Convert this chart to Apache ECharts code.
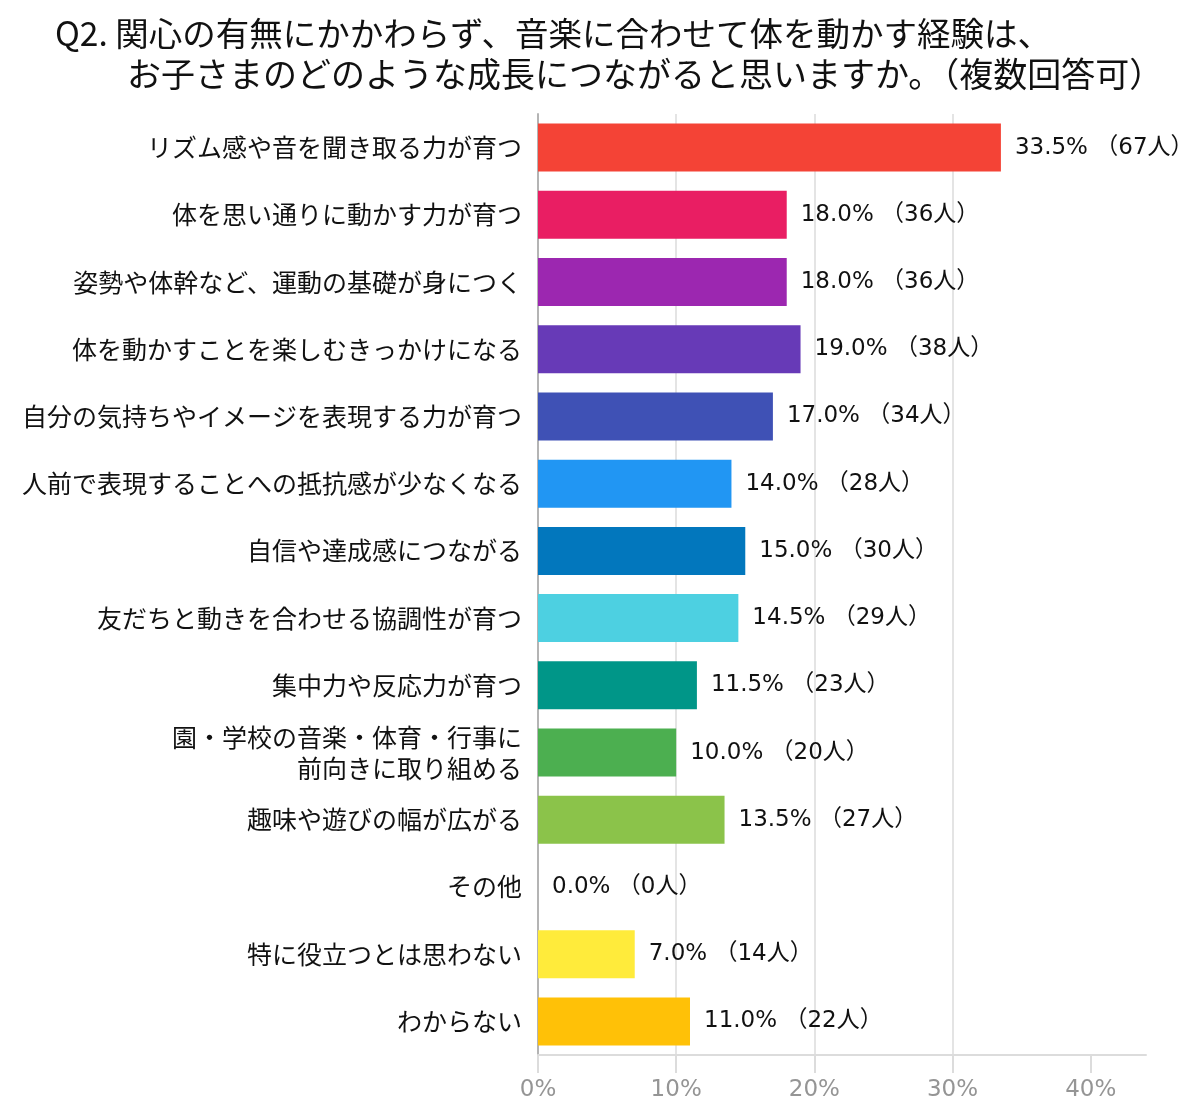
<!DOCTYPE html>
<html>
<head>
<meta charset="utf-8">
<script src="https://cdn.jsdelivr.net/npm/echarts@6/dist/echarts.min.js"></script>
<style>
  html, body { margin: 0; padding: 0; background: #fff; }
  #main { width: 1200px; height: 1118px; }
</style>
</head>
<body>
<div id="main"></div>
<script>
// 項目名
var categories = [
    'リズム感や音を聞き取る力が育つ',
    '体を思い通りに動かす力が育つ',
    '姿勢や体幹など、運動の基礎が身につく',
    '体を動かすことを楽しむきっかけになる',
    '自分の気持ちやイメージを表現する力が育つ',
    '人前で表現することへの抵抗感が少なくなる',
    '自信や達成感につながる',
    '友だちと動きを合わせる協調性が育つ',
    '集中力や反応力が育つ',
    '園・学校の音楽・体育・行事に\n前向きに取り組める',
    '趣味や遊びの幅が広がる',
    'その他',
    '特に役立つとは思わない',
    'わからない'
];
// 割合(%)
var percents = [33.5, 18.0, 18.0, 19.0, 17.0, 14.0, 15.0, 14.5, 11.5, 10.0, 13.5, 0.0, 7.0, 11.0];
// 人数
var counts = [67, 36, 36, 38, 34, 28, 30, 29, 23, 20, 27, 0, 14, 22];
// 目盛り
var ticks = [0, 10, 20, 30, 40];

var barColors = ['#F44336', '#E91E63', '#9C27B0', '#673AB7', '#3F51B5', '#2196F3', '#0277BD',
    '#4DD0E1', '#009688', '#4CAF50', '#8BC34A', '#9E9E9E', '#FFEB3B', '#FFC107'];

var font = '"Noto Sans CJK JP", "Noto Sans", sans-serif';
var numFont = '"DejaVu Sans", "Noto Sans CJK JP", sans-serif';

var myChart = echarts.init(document.getElementById('main'));

var option = {
    backgroundColor: '#ffffff',
    title: [
        {
            text: 'Q2. 関心の有無にかかわらず、音楽に合わせて体を動かす経験は、',
            left: 50,
            top: 12,
            textStyle: { fontFamily: font, fontSize: 33.5, fontWeight: 'normal', color: '#111' }
        },
        {
            text: 'お子さまのどのような成長につながると思いますか。（複数回答可）',
            left: 122,
            top: 52,
            textStyle: { fontFamily: font, fontSize: 34, fontWeight: 'normal', color: '#111' }
        }
    ],
    grid: {
        left: 538,
        right: 54,
        top: 114,
        bottom: 63,
        containLabel: false
    },
    xAxis: {
        type: 'value',
        min: 0,
        max: 44,
        interval: 10,
        axisLine: { show: true, lineStyle: { color: '#dcdcdc', width: 2 } },
        axisTick: {
            show: true,
            customValues: ticks,
            length: 18,
            lineStyle: { color: '#dcdcdc', width: 2 }
        },
        splitLine: {
            show: true,
            showMaxLine: false,
            lineStyle: { color: '#e4e4e4', width: 2 }
        },
        axisLabel: {
            customValues: ticks,
            formatter: '{value}%',
            margin: 24,
            fontFamily: numFont,
            fontSize: 23,
            color: '#959595'
        }
    },
    yAxis: {
        type: 'category',
        data: categories,
        inverse: true,
        axisLine: { show: true, lineStyle: { color: '#b4b4b4', width: 2 } },
        axisTick: { show: false },
        splitLine: { show: false },
        axisLabel: {
            margin: 16,
            fontFamily: font,
            fontSize: 25,
            lineHeight: 31,
            color: '#111',
            align: 'right'
        }
    },
    series: [
        {
            type: 'bar',
            data: percents.map(function (v, i) {
                return { value: v, itemStyle: { color: barColors[i] } };
            }),
            barWidth: 48,
            label: {
                show: true,
                position: 'right',
                distance: 14,
                fontFamily: numFont,
                fontSize: 23,
                color: '#111',
                formatter: function (p) {
                    return p.value.toFixed(1) + '% （' + counts[p.dataIndex] + '人）';
                }
            }
        }
    ]
};

if (option && typeof option === "object") {
    myChart.setOption(option, true);
}
</script>
</body>
</html>
